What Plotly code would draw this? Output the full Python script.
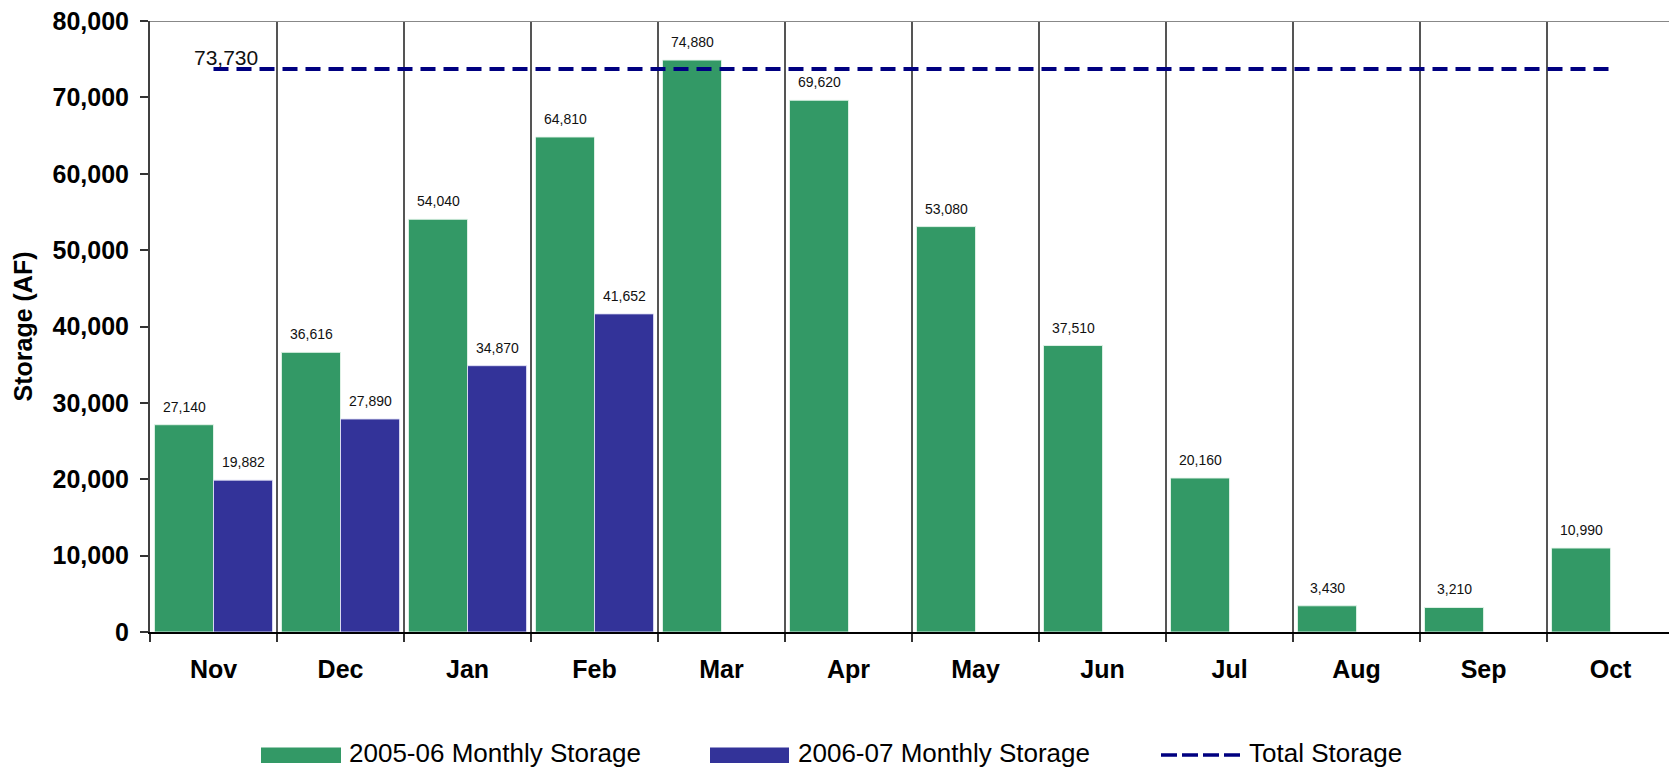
import plotly.graph_objects as go

# Monthly storage data (AF)
months = ["Nov", "Dec", "Jan", "Feb", "Mar", "Apr", "May", "Jun", "Jul", "Aug", "Sep", "Oct"]
storage_2005_06 = [27140, 36616, 54040, 64810, 74880, 69620, 53080, 37510, 20160, 3430, 3210, 10990]
storage_2006_07 = [19882, 27890, 34870, 41652, None, None, None, None, None, None, None, None]
total_storage = [73730] * len(months)

series_names = ["2005-06 Monthly Storage", "2006-07 Monthly Storage", "Total Storage"]

GREEN = "#339966"
BLUE = "#333399"
NAVY = "#000080"
FONT = "Liberation Sans, Arial, sans-serif"

# plot area in pixels (used for paper-coordinate placement of legend / title)
L, R, T, B = 150, 0, 21, 138
W, H = 1669, 770
PW = W - L - R
PH = H - T - B


def px_x(p):
    return (p - L) / PW


def px_y(p):
    return (H - B - p) / PH


fig = go.Figure()

fig.add_bar(
    x=months, y=storage_2005_06, name=series_names[0],
    marker=dict(color=GREEN, line=dict(color="rgba(230,245,235,0.9)", width=1)),
)
fig.add_bar(
    x=months, y=storage_2006_07, name=series_names[1],
    marker=dict(color=BLUE, line=dict(color="rgba(225,225,245,0.9)", width=1)),
)
fig.add_scatter(
    x=months, y=total_storage, name=series_names[2], mode="lines",
    line=dict(color=NAVY, width=4, dash="15px,8px"),
)

# data labels above bars
annotations = []
for shift, values in ((-29.5, storage_2005_06), (29.5, storage_2006_07)):
    for m, v in zip(months, values):
        if v is None:
            continue
        annotations.append(dict(
            x=m, y=v, text=f"{v:,}", showarrow=False,
            xshift=shift, yshift=18, yanchor="middle",
            font=dict(family=FONT, size=14, color="#111111"),
        ))

# total storage label
annotations.append(dict(
    x=months[0], y=total_storage[0], text=f"{total_storage[0]:,}", showarrow=False,
    xshift=12.5, yshift=11.5, yanchor="middle",
    font=dict(family=FONT, size=21, color="#111111"),
))

# y axis title
annotations.append(dict(
    xref="paper", yref="paper", x=px_x(22), y=0.5, text="<b>Storage (AF)</b>",
    textangle=-90, showarrow=False, xanchor="center", yanchor="middle",
    font=dict(family=FONT, size=25, color="#000000"),
))

# custom legend
shapes = []
legend_y = px_y(755)
shapes.append(dict(type="rect", xref="paper", yref="paper",
                   x0=px_x(261), x1=px_x(341), y0=px_y(763), y1=px_y(747.5),
                   fillcolor=GREEN, line=dict(width=0)))
shapes.append(dict(type="rect", xref="paper", yref="paper",
                   x0=px_x(710), x1=px_x(789), y0=px_y(763), y1=px_y(747.5),
                   fillcolor=BLUE, line=dict(width=0)))
shapes.append(dict(type="line", xref="paper", yref="paper",
                   x0=px_x(1161), x1=px_x(1242), y0=legend_y, y1=legend_y,
                   line=dict(color=NAVY, width=3.5, dash="16px,5px")))
for name, xpos in zip(series_names, (347, 796, 1247)):
    annotations.append(dict(
        xref="paper", yref="paper", x=px_x(xpos), y=px_y(753), text=name,
        showarrow=False, xanchor="left", yanchor="middle",
        font=dict(family=FONT, size=26, color="#000000"),
    ))

# top border of plot area
shapes.append(dict(type="line", xref="paper", yref="y", x0=0, x1=1, y0=80000, y1=80000,
                   line=dict(color="#888888", width=2)))

fig.update_layout(
    width=W, height=H,
    margin=dict(l=L, r=R, t=T, b=B),
    barmode="group", bargap=0.07, bargroupgap=0,
    paper_bgcolor="white", plot_bgcolor="white",
    showlegend=False,
    font=dict(family=FONT, color="#000000"),
    annotations=annotations,
    shapes=shapes,
)

fig.update_xaxes(
    type="category", range=[-0.5, 11.46],
    tickson="boundaries", ticks="outside", ticklen=8, tickcolor="#333333", tickwidth=1.5,
    showgrid=True, gridcolor="#555555", gridwidth=1.5,
    showline=True, linecolor="#000000", linewidth=2,
    tickfont=dict(family=FONT, size=25, color="#000000", weight="bold"),
    ticklabelstandoff=14,
)
fig.update_yaxes(
    range=[0, 80000], dtick=10000, tickformat=",",
    ticks="outside", ticklen=8, tickcolor="#333333", tickwidth=1.5,
    showgrid=False, zeroline=False,
    showline=True, linecolor="#404040", linewidth=2,
    tickfont=dict(family=FONT, size=25, color="#000000", weight="bold"),
    ticklabelstandoff=6,
)

fig.write_html(
    "out.html",
    config={"displayModeBar": False},
    post_script="document.body.style.margin='0';",
)
